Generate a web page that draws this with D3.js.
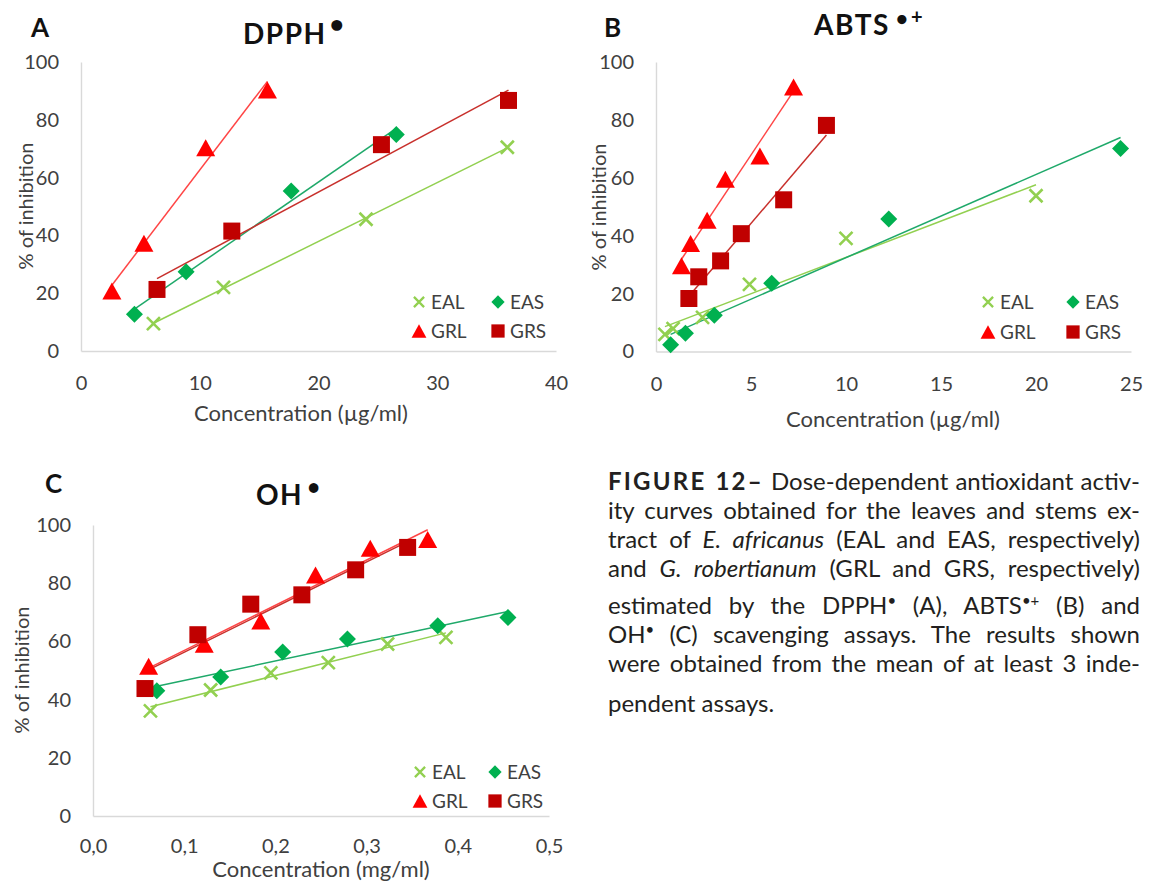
<!DOCTYPE html>
<html><head><meta charset="utf-8">
<script src="https://cdn.jsdelivr.net/npm/d3@7"></script>
<style>
body{margin:0;background:#fff;}
svg{display:block;font-family:Lato, sans-serif;}
</style></head><body>
<svg id="fig" width="1149" height="881"></svg>
<script>
// ---------- DATA ----------
const seriesNames = ["EAL", "EAS", "GRL", "GRS"];
const yTicks = [0, 20, 40, 60, 80, 100];

// Panel A — DPPH (µg/ml)
const dpphXTicks = [0, 10, 20, 30, 40];
const dpphXTickLabels = ["0", "10", "20", "30", "40"];
const dpphEAL_x = [6.1, 12.0, 24.0, 35.9];
const dpphEAL_y = [9.5, 22.0, 45.6, 70.5];
const dpphEAS_x = [4.5, 8.85, 17.7, 26.55];
const dpphEAS_y = [12.7, 27.4, 55.4, 74.9];
const dpphGRL_x = [2.6, 5.3, 10.5, 15.7];
const dpphGRL_y = [20.8, 37.3, 70.3, 90.3];
const dpphGRS_x = [6.4, 12.7, 25.3, 36.0];
const dpphGRS_y = [21.3, 41.5, 71.4, 86.7];

// Panel B — ABTS (µg/ml)
const abtsXTicks = [0, 5, 10, 15, 20, 25];
const abtsXTickLabels = ["0", "5", "10", "15", "20", "25"];
const abtsEAL_x = [0.47, 0.9, 2.45, 4.92, 10.0, 20.0];
const abtsEAL_y = [5.9, 7.9, 11.8, 23.2, 39.1, 53.8];
const abtsEAS_x = [0.77, 1.55, 3.07, 6.09, 12.25, 24.45];
const abtsEAS_y = [2.3, 6.3, 12.5, 23.6, 45.8, 70.1];
const abtsGRL_x = [1.34, 1.82, 2.69, 3.65, 5.47, 7.24];
const abtsGRL_y = [29.6, 37.3, 45.3, 59.5, 67.5, 91.4];
const abtsGRS_x = [1.73, 2.25, 3.4, 4.49, 6.72, 8.97];
const abtsGRS_y = [18.3, 25.8, 31.3, 40.7, 52.4, 78.1];

// Panel C — OH (mg/ml)
const ohXTicks = [0, 0.1, 0.2, 0.3, 0.4, 0.5];
const ohXTickLabels = ["0,0", "0,1", "0,2", "0,3", "0,4", "0,5"];
const ohEAL_x = [0.063, 0.129, 0.195, 0.258, 0.323, 0.387];
const ohEAL_y = [36.1, 43.3, 49.2, 52.7, 59.1, 61.4];
const ohEAS_x = [0.070, 0.140, 0.208, 0.279, 0.378, 0.455];
const ohEAS_y = [43.0, 47.8, 56.4, 60.8, 65.4, 68.2];
const ohGRL_x = [0.061, 0.122, 0.184, 0.244, 0.304, 0.367];
const ohGRL_y = [51.5, 59.0, 67.0, 82.8, 92.0, 95.0];
const ohGRS_x = [0.057, 0.115, 0.173, 0.229, 0.288, 0.345];
const ohGRS_y = [43.8, 62.3, 72.8, 76.0, 84.6, 92.3];

// ---------- STYLE ----------
const markerColor = {EAL: "#92D050", EAS: "#00B050", GRL: "#FF0000", GRS: "#C00000"};
const lineColor = {EAL: "#92D050", EAS: "#1FA96A", GRL: "#FF4545", GRS: "#C8302C"};
const markerType = {EAL: "x", EAS: "diamond", GRL: "triangle", GRS: "square"};
const tickColor = "#404040";

const svg = d3.select("#fig");
svg.append("rect").attr("width", 1149).attr("height", 881).attr("fill", "#fff");

function markerPath(type, big) {
  const k = big ? 1 : 0.78;
  if (type === "x") { const s = 13 * k / 2; return `M${-s},${-s}L${s},${s}M${-s},${s}L${s},${-s}`; }
  if (type === "diamond") { const s = 17 * k / 2; return `M0,${-s}L${s},0L0,${s}L${-s},0Z`; }
  if (type === "triangle") { const w = 19 * k / 2, h = 17 * k / 2; return `M0,${-h}L${w},${h}L${-w},${h}Z`; }
  const s = 17 * k / 2; return `M${-s},${-s}H${s}V${s}H${-s}Z`;
}
function drawMarker(g, type, name, big) {
  const p = g.append("path").attr("d", markerPath(type, big));
  if (type === "x") p.attr("fill", "none").attr("stroke", markerColor[name]).attr("stroke-width", big ? 2.6 : 2.3);
  else p.attr("fill", markerColor[name]);
  return p;
}
function regression(xs, ys) {
  const mx = d3.mean(xs), my = d3.mean(ys);
  let sxx = 0, sxy = 0;
  xs.forEach((v, i) => { sxx += (v - mx) * (v - mx); sxy += (v - mx) * (ys[i] - my); });
  const b = sxy / sxx; return v => my + b * (v - mx);
}

function drawPanel(p) {
  const g = svg.append("g");
  const x = d3.scaleLinear().domain([p.xTicks[0], p.xTicks[p.xTicks.length - 1]]).range([p.left, p.right]);
  const y = d3.scaleLinear().domain([0, 100]).range([p.bottom, p.top]);

  const ax = g.append("g").attr("transform", `translate(0,${p.bottom})`)
    .call(d3.axisBottom(x).tickValues(p.xTicks).tickFormat((d, i) => p.xTickLabels[i]).tickSize(0).tickPadding(p.xPad));
  const ay = g.append("g").attr("transform", `translate(${p.left},0)`)
    .call(d3.axisLeft(y).tickValues(yTicks).tickSize(0).tickPadding(22));
  [ax, ay].forEach(a => {
    a.attr("font-family", "Lato, sans-serif").attr("font-size", 20);
    a.select(".domain").attr("stroke", "#d9d9d9").attr("stroke-width", 1.4);
    a.selectAll("text").attr("fill", tickColor);
  });

  // trend lines
  seriesNames.forEach(n => {
    const xs = p.data[n][0], ys = p.data[n][1];
    const f = regression(xs, ys);
    const x0 = d3.min(xs), x1 = d3.max(xs);
    g.append("line").attr("x1", x(x0)).attr("y1", y(f(x0))).attr("x2", x(x1)).attr("y2", y(f(x1)))
      .attr("stroke", lineColor[n]).attr("stroke-width", 1.5);
  });
  // markers
  seriesNames.forEach(n => {
    const xs = p.data[n][0], ys = p.data[n][1];
    xs.forEach((v, i) => {
      drawMarker(g, markerType[n], n, true).attr("transform", `translate(${x(v)},${y(ys[i])})`);
    });
  });

  // legend
  seriesNames.forEach((n, i) => {
    const lx = p.legend.cols[i % 2], ly = p.legend.rows[Math.floor(i / 2)];
    drawMarker(g, markerType[n], n, false).attr("transform", `translate(${lx},${ly})`);
    g.append("text").attr("x", lx + 12).attr("y", ly).attr("dy", "0.36em")
      .attr("font-size", 19).attr("fill", tickColor).text(n);
  });

  // axis titles
  g.append("text").attr("transform", `translate(${p.yLabel[0]},${p.yLabel[1]}) rotate(-90)`)
    .attr("text-anchor", "middle").attr("font-size", 20).attr("fill", tickColor).text("% of inhibition");
  g.append("text").attr("x", p.xLabel[0]).attr("y", p.xLabel[1])
    .attr("text-anchor", "middle").attr("font-size", 22).attr("fill", tickColor).text(p.xTitle);

  // panel letter
  g.append("text").attr("x", p.letter[0]).attr("y", p.letter[1]).attr("font-size", 26)
    .attr("font-weight", 700).attr("fill", "#111").text(p.letterText);

  // title
  const t = g.append("text").attr("x", p.title[0]).attr("y", p.title[1]).attr("font-size", 28)
    .attr("font-weight", 700).attr("letter-spacing", 1.5).attr("fill", "#111");
  t.append("tspan").text(p.titleText);
  p.sup.forEach(s => {
    t.append("tspan").attr("dy", s.dy).attr("dx", s.dx).attr("font-size", s.size)
      .attr("letter-spacing", 0).text(s.t);
  });
}

drawPanel({
  left: 81, right: 556, top: 62, bottom: 351, xPad: 25,
  xTicks: dpphXTicks, xTickLabels: dpphXTickLabels,
  data: {EAL: [dpphEAL_x, dpphEAL_y], EAS: [dpphEAS_x, dpphEAS_y], GRL: [dpphGRL_x, dpphGRL_y], GRS: [dpphGRS_x, dpphGRS_y]},
  legend: {cols: [419, 498], rows: [302, 331]},
  yLabel: [33, 206], xLabel: [301, 421], xTitle: "Concentration (µg/ml)",
  letter: [31, 37], letterText: "A",
  title: [243, 44], titleText: "DPPH",
  sup: [{t: "•", size: 25, dy: -11, dx: 3}]
});
drawPanel({
  left: 656, right: 1131, top: 62, bottom: 351.5, xPad: 25,
  xTicks: abtsXTicks, xTickLabels: abtsXTickLabels,
  data: {EAL: [abtsEAL_x, abtsEAL_y], EAS: [abtsEAS_x, abtsEAS_y], GRL: [abtsGRL_x, abtsGRL_y], GRS: [abtsGRS_x, abtsGRS_y]},
  legend: {cols: [988, 1073], rows: [302, 332]},
  yLabel: [606, 207], xLabel: [893, 427], xTitle: "Concentration (µg/ml)",
  letter: [604, 37], letterText: "B",
  title: [814, 35], titleText: "ABTS",
  sup: [{t: "•", size: 21, dy: -9, dx: 6}, {t: "+", size: 20, dy: -2, dx: 3}]
});
drawPanel({
  left: 93, right: 549, top: 525, bottom: 816, xPad: 23,
  xTicks: ohXTicks, xTickLabels: ohXTickLabels,
  data: {EAL: [ohEAL_x, ohEAL_y], EAS: [ohEAS_x, ohEAS_y], GRL: [ohGRL_x, ohGRL_y], GRS: [ohGRS_x, ohGRS_y]},
  legend: {cols: [420, 495], rows: [772, 801]},
  yLabel: [29, 670], xLabel: [321, 877], xTitle: "Concentration (mg/ml)",
  letter: [45, 493], letterText: "C",
  title: [256, 505], titleText: "OH",
  sup: [{t: "•", size: 22, dy: -10, dx: 4}]
});

// ---------- CAPTION ----------
const captionLines = [
  [{t: "FIGURE 12–", b: 1}, {t: " Dose-dependent antioxidant activ-"}],
  [{t: "ity curves obtained for the leaves and stems ex-"}],
  [{t: "tract of "}, {t: "E. africanus", i: 1}, {t: " (EAL and EAS, respectively)"}],
  [{t: "and "}, {t: "G. robertianum", i: 1}, {t: " (GRL and GRS, respectively)"}],
  [{t: "estimated by the DPPH"}, {t: "•", s: 1}, {t: " (A), ABTS"}, {t: "•+", s: 1}, {t: " (B) and"}],
  [{t: "OH"}, {t: "•", s: 1}, {t: " (C) scavenging assays. The results shown"}],
  [{t: "were obtained from the mean of at least 3 inde-"}],
  [{t: "pendent assays."}]
];
const capBaselines = [490, 519, 548, 576.5, 614, 643, 671.5, 711.5];
const capLeft = 608, capWidth = 532;
const cap = svg.append("g").attr("font-size", 24).attr("fill", "#231f20");
captionLines.forEach((line, li) => {
  const t = cap.append("text").attr("x", capLeft).attr("y", capBaselines[li]);
  let shift = 0;
  line.forEach(seg => {
    const ts = t.append("tspan").text(seg.t);
    if (seg.b) ts.attr("font-weight", 700).attr("letter-spacing", 2.2);
    if (seg.i) ts.attr("font-style", "italic");
    if (seg.s) { ts.attr("font-size", 15).attr("dy", -8 - shift); shift = -8; }
    else if (shift !== 0) { ts.attr("dy", -shift); shift = 0; }
  });
  if (li < captionLines.length - 1) {
    const w = t.node().getComputedTextLength();
    const spaces = line.map(s => s.t).join("").split(" ").length - 1;
    t.style("word-spacing", ((capWidth - w) / spaces) + "px");
  }
});
</script>
</body></html>
